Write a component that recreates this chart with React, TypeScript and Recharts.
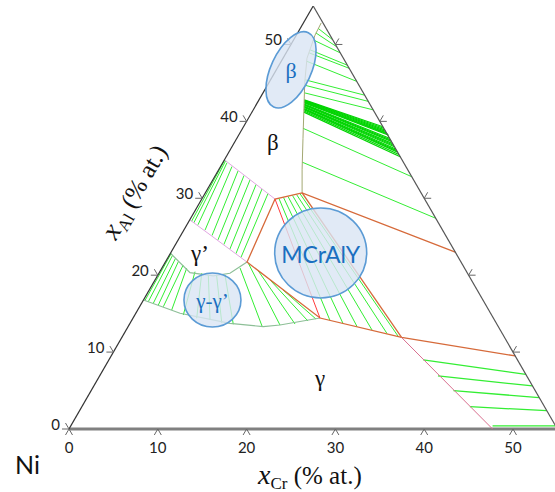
import React from "react";
import { ScatterChart, Scatter, XAxis, YAxis, ReferenceLine, ReferenceDot } from "recharts";

const K = Math.sqrt(3) / 2;

// all points are [x_Cr, x_Al] in % at.
const leftEdge = [[0, 0], [0, 55]];
const rightEdge = [[55, 0], [0, 55]];
const baseEdge = [[0, 0], [55, 0]];

const betaLimit = [[2.0, 52.8], [2.1, 51.2], [2.7, 48.2], [4.0, 45.1], [7.45, 37.8], [9.4, 33.7], [10.9, 30.7]];
const threePhase = [[32.0, 23.0], [10.9, 30.7], [8.25, 29.9], [9.2, 21.7], [21.05, 14.43], [31.5, 11.9], [45.5, 9.5]];
const mcralyRight = [[10.9, 30.7], [31.5, 11.9]];
const mcralyLeft = [[8.25, 29.9], [21.05, 14.43]];
const alphaLimit = [[31.5, 11.9], [47.7, 0]];
const gpBetaTop = [[0, 35.0], [8.25, 29.9]];
const gpBetaBottom = [[0, 27.2], [9.2, 21.7]];
const gpLimit = [[0, 22.85], [3.46, 20.33], [6.3, 19.9], [8.0, 20.25], [9.2, 21.7]];
const gammaLimit = [[0, 16.77], [4.98, 15.05], [11.26, 13.74], [15.23, 13.3], [17.0, 13.52], [21.05, 14.43]];

// tie lines: [Cr1, Al1, Cr2, Al2]
const betaAlphaTies = [
  [2.0, 52.1, 4.4, 50.6], [2.05, 51.5, 5.3, 49.7], [2.2, 50.6, 6.1, 48.9], [2.5, 49.3, 7.7, 47.3],
  [2.6, 48.9, 8.1, 46.9], [2.9, 47.8, 9.8, 45.2], [3.9, 45.4, 11.6, 43.4], [4.2, 44.7, 12.4, 42.6],
  [4.7, 43.7, 13.5, 41.5],
  [6.8, 39.1, 22.2, 32.8], [8.9, 34.7, 27.6, 27.4],
];
const betaAlphaBand = [
  [5.1, 42.8, 15.7, 39.3], [5.12, 42.75, 15.9, 39.1], [5.15, 42.7, 16.1, 38.9], [5.18, 42.62, 16.3, 38.7],
  [5.2, 42.55, 16.5, 38.5], [5.25, 42.48, 16.7, 38.35], [5.3, 42.4, 16.9, 38.2], [5.35, 42.25, 17.2, 37.8],
  [5.4, 42.18, 17.4, 37.6], [5.45, 42.1, 17.6, 37.4], [5.5, 41.95, 17.9, 37.1], [5.55, 41.88, 18.1, 36.9],
  [5.6, 41.8, 18.3, 36.7], [5.65, 41.65, 18.6, 36.4], [5.68, 41.58, 18.8, 36.2], [5.7, 41.5, 19.0, 36.0],
  [5.8, 41.35, 19.3, 35.7], [5.85, 41.2, 19.6, 35.4],
];
const mcralyTies = [
  [8.66, 29.97, 22.34, 14.11], [9.11, 30.1, 24.0, 13.72], [9.55, 30.23, 25.77, 13.33],
  [9.99, 30.36, 27.69, 12.87], [10.38, 30.49, 29.6, 12.42], [10.71, 30.6, 31.0, 12.09],
];
const alphaGammaTies = [
  [35.4, 9.0, 47.9, 7.1], [38.1, 6.9, 49.4, 5.6], [40.8, 5.0, 50.9, 4.07], [43.7, 2.9, 52.6, 2.38], [47.5, 0.4, 54.6, 0.4],
];
const gpBetaTies = [
  [0.3, 27.02, 0.05, 34.97], [0.65, 26.81, 0.2, 34.88],
  [1.25, 26.55, 0.48, 34.62], [2.39, 25.86, 1.29, 34.13], [3.53, 25.16, 2.26, 33.55], [4.48, 24.59, 3.23, 32.96],
  [5.45, 23.99, 4.19, 32.38], [6.42, 23.41, 5.17, 31.79], [7.4, 22.81, 6.13, 31.21], [8.21, 22.31, 7.1, 30.62],
];
const gammaGpTies = [
  [0.2, 16.7, 0.1, 22.8], [0.65, 16.55, 0.37, 22.55], [1.32, 16.35, 0.9, 22.2], [2.0, 16.12, 1.43, 21.8],
  [2.67, 15.9, 2.2, 21.3], [3.83, 15.47, 2.8, 20.9], [5.46, 14.82, 3.96, 20.46], [7.18, 14.4, 4.82, 20.25],
  [8.8, 14.17, 5.67, 20.03], [10.29, 13.82, 6.68, 19.9], [11.69, 13.62, 7.55, 20.03],
  [15.04, 13.39, 8.79, 20.94], [17.0, 13.52, 9.42, 21.55], [18.63, 13.65, 10.98, 20.61],
  [19.89, 14.04, 12.95, 19.38], [20.66, 14.3, 15.06, 18.08],
];

const bottomTicks = [0, 10, 20, 30, 40, 50];
const leftTicks = [0, 10, 20, 30, 40, 50];
const rightTicks = [10, 20, 30, 40, 50];

const phaseLabels = [
  { text: "β", at: [4.37, 37.2] },
  { text: "γ’", at: [3.37, 22.76] },
  { text: "γ", at: [24.95, 6.63] },
];
const bubbles = [
  { text: "β", at: [1.65, 46.7], rx: 20, ry: 41, rot: 25, size: 22 },
  { text: "MCrAlY", at: [16.9, 22.89], rx: 46, ry: 45, rot: 0, size: 23 },
  { text: "γ-γ’", at: [7.77, 16.77], rx: 28.5, ry: 27, rot: 0, size: 21 },
];

const GREEN = "#33ee33";
const ORANGE = "#d66a3a";
const TICK = "#666";

const xy = (cr: number, al: number) => ({ x: cr + al / 2, y: al * K });
const pts = (arr: number[][]) => arr.map(([c, a]) => xy(c, a));
const Nothing = () => <g />;

function curve(key: string, arr: number[][], stroke: string, w = 1) {
  return (
    <Scatter key={key} data={pts(arr)} line={{ stroke, strokeWidth: w }} shape={Nothing}
      isAnimationActive={false} legendType="none" />
  );
}

function segs(key: string, arr: number[][], stroke: string, w = 1) {
  return arr.map((t, i) => (
    <ReferenceLine key={key + i} segment={[xy(t[0], t[1]), xy(t[2], t[3])]}
      stroke={stroke} strokeWidth={w} ifOverflow="visible" />
  ));
}

function marks(key: string, list: { x: number; y: number; label?: string }[], draw: (cx: number, cy: number, label?: string) => React.ReactElement) {
  return list.map((m, i) => (
    <ReferenceDot key={key + i} x={m.x} y={m.y} r={0} ifOverflow="visible"
      shape={(p: any) => draw(p.cx, p.cy, m.label)} />
  ));
}

const bottomTick = (cx: number, cy: number, label?: string) => (
  <g>
    <path d={`M${cx - 3.5},${cy + 6} L${cx},${cy} L${cx + 3.5},${cy + 6}`} stroke={TICK} fill="none" />
    <text x={cx} y={cy + 24} textAnchor="middle" fontFamily="Lato" fontSize={15} fill="#222">{label}</text>
  </g>
);
const leftTick = (cx: number, cy: number, label?: string) => (
  <g>
    <path d={`M${cx - 7},${cy} L${cx},${cy} L${cx - 3.5},${cy - 6}`} stroke={TICK} fill="none" />
    <text x={cx - 9} y={cy + 1} textAnchor="end" fontFamily="Lato" fontSize={15} fill="#222">{label}</text>
  </g>
);
const rightTick = (cx: number, cy: number) => (
  <path d={`M${cx + 7},${cy} L${cx},${cy} L${cx + 3.5},${cy - 6}`} stroke={TICK} fill="none" />
);

export default function App() {
  return (
    <div style={{ position: "absolute", left: 0, top: 0, width: 555, height: 492, overflow: "hidden", background: "#fff" }}>
      <ScatterChart width={560} height={492} margin={{ top: 6, right: 2.6, bottom: 63, left: 69 }}>
        <XAxis type="number" dataKey="x" domain={[0, 55]} hide allowDataOverflow />
        <YAxis type="number" dataKey="y" domain={[0, 55 * K]} hide allowDataOverflow />

        {segs("ba", betaAlphaTies, GREEN)}
        {segs("bb", betaAlphaBand, "#00d400", 1.2)}
        {segs("mc", mcralyTies, GREEN)}
        {segs("ag", alphaGammaTies, GREEN, 1.3)}
        {segs("gb", gpBetaTies, GREEN)}
        {segs("gg", gammaGpTies, GREEN)}

        {curve("beta", betaLimit, "#a3a872")}
        {curve("gpTop", gpBetaTop, "#e2a6e2")}
        {curve("gpBot", gpBetaBottom, "#e2a6e2")}
        {curve("gp", gpLimit, "#8dbf97", 1.2)}
        {curve("gam", gammaLimit, "#8dbf97", 1.2)}
        {curve("three", threePhase, ORANGE, 1.3)}
        {curve("mcr", mcralyRight, ORANGE, 1.3)}
        {curve("red", mcralyLeft, "#ff3b3b")}
        {curve("alpha", alphaLimit, "#d9708f")}

        {curve("left", leftEdge, "#333", 1.2)}
        {curve("right", rightEdge, "#555", 1.2)}
        {segs("base", [[baseEdge[0][0], baseEdge[0][1], baseEdge[1][0], baseEdge[1][1]]], "#808080", 3)}

        {marks("bt", bottomTicks.map((v) => ({ ...xy(v, 0), label: String(v) })), bottomTick)}
        {marks("lt", leftTicks.map((v) => ({ ...xy(0, v), label: String(v) })), leftTick)}
        {marks("rt", rightTicks.map((v) => xy(55 - v, v)), rightTick)}

        {phaseLabels.map((l) => (
          <ReferenceDot key={l.text} {...xy(l.at[0], l.at[1])} r={0} ifOverflow="visible"
            shape={(p: any) => (
              <text x={p.cx} y={p.cy} textAnchor="middle" dominantBaseline="central"
                fontFamily="Liberation Serif" fontSize={23} fill="#111">{l.text}</text>
            )} />
        ))}
        {bubbles.map((b) => (
          <ReferenceDot key={b.text} {...xy(b.at[0], b.at[1])} r={0} ifOverflow="visible"
            shape={(p: any) => (
              <g>
                <ellipse cx={p.cx} cy={p.cy} rx={b.rx} ry={b.ry} transform={`rotate(${b.rot} ${p.cx} ${p.cy})`}
                  fill="#d9e5f4" fillOpacity={0.8} stroke="#5b9bd5" strokeWidth={1.6} />
                <text x={p.cx} y={p.cy + 1} textAnchor="middle" dominantBaseline="central"
                  fontFamily={b.text === "MCrAlY" ? "Lato" : "Liberation Serif"} fontSize={b.size} fill="#1a6fc0">{b.text}</text>
              </g>
            )} />
        ))}
      </ScatterChart>
      <svg width={555} height={492} style={{ position: "absolute", left: 0, top: 0, pointerEvents: "none" }}>
        <text x={15} y={474} fontFamily="Lato" fontSize={25} fill="#111">Ni</text>
        <text x={258} y={484} fontFamily="Liberation Serif" fontSize={25} fill="#111">
          <tspan fontStyle="italic" fontSize={28}>x</tspan>
          <tspan fontSize={17} dy={5}>Cr</tspan>
          <tspan dy={-5}> (% at.)</tspan>
        </text>
        <text x={0} y={0} textAnchor="middle" transform="translate(142,196) rotate(-60)"
          fontFamily="Liberation Serif" fontSize={25} fill="#111">
          <tspan fontStyle="italic" fontSize={28}>x</tspan>
          <tspan fontSize={17} dy={5}>Al</tspan>
          <tspan dy={-5}> (% at.)</tspan>
        </text>
      </svg>
    </div>
  );
}
